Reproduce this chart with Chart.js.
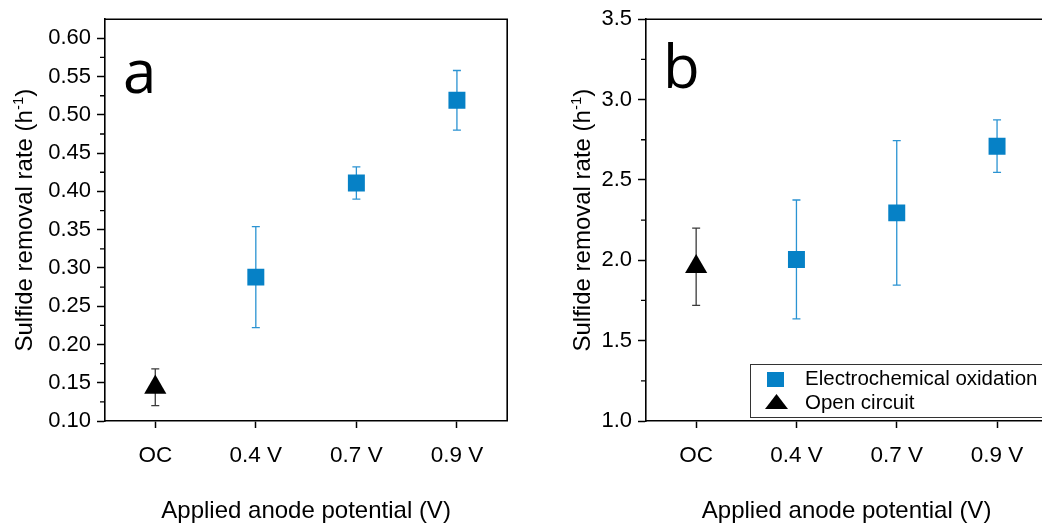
<!DOCTYPE html>
<html>
<head>
<meta charset="utf-8">
<script src="https://cdn.jsdelivr.net/npm/chart.js@4.4.0/dist/chart.umd.min.js"></script>
<style>
  html, body { margin: 0; padding: 0; background: #fff; overflow: hidden; width: 1042px; height: 523px; }
  canvas { position: absolute; top: 0; }
  #chartA { left: 0; }
  #chartB { left: 520px; }
</style>
</head>
<body>
<canvas id="chartA" width="520" height="523"></canvas>
<canvas id="chartB" width="540" height="523"></canvas>
<script>
const categories = ['OC', '0.4 V', '0.7 V', '0.9 V']

// panel a
const oxidationA = [null, 0.288, 0.411, 0.519]
const oxidationErrA = [null, 0.066, 0.021, 0.039]
const openA = [0.144, null, null, null]
const openErrA = [0.024, null, null, null]
const yTicksA = [0.10, 0.15, 0.20, 0.25, 0.30, 0.35, 0.40, 0.45, 0.50, 0.55, 0.60]

// panel b
const oxidationB = [null, 2.005, 2.295, 2.71]
const oxidationErrB = [null, 0.37, 0.45, 0.163]
const openB = [1.96, null, null, null]
const openErrB = [0.24, null, null, null]
const yTicksB = [1.0, 1.5, 2.0, 2.5, 3.0, 3.5]

const BLUE = '#0681c6'
const FONT = "'Liberation Sans', Arial, sans-serif"

// vertical error bars with caps, drawn under the markers
const errorBars = {
    id: 'errorBars',
    beforeDatasetsDraw(chart) {
        const ctx = chart.ctx
        const y = chart.scales.y
        chart.data.datasets.forEach((ds, i) => {
            const meta = chart.getDatasetMeta(i)
            meta.data.forEach((pt, j) => {
                const v = ds.data[j]
                const e = ds.errors[j]
                if (v == null || e == null) return
                const top = y.getPixelForValue(v + e)
                const bot = y.getPixelForValue(v - e)
                ctx.save()
                ctx.strokeStyle = ds.errorColor
                ctx.lineWidth = 1.3
                ctx.beginPath()
                ctx.moveTo(pt.x, top)
                ctx.lineTo(pt.x, bot)
                ctx.moveTo(pt.x - 4, top)
                ctx.lineTo(pt.x + 4, top)
                ctx.moveTo(pt.x - 4, bot)
                ctx.lineTo(pt.x + 4, bot)
                ctx.stroke()
                ctx.restore()
            })
        })
    }
}

// frame, minor ticks, axis titles, panel letter and legend box
const panelDecor = {
    id: 'panelDecor',
    afterDraw(chart, args, opts) {
        const ctx = chart.ctx
        const area = chart.chartArea
        const y = chart.scales.y
        ctx.save()

        ctx.strokeStyle = '#000'
        ctx.lineWidth = 1.6
        ctx.beginPath()
        ctx.moveTo(area.left, area.top)
        ctx.lineTo(area.right, area.top)
        ctx.lineTo(area.right, area.bottom)
        ctx.stroke()

        // minor ticks halfway between the labelled ones
        ctx.lineWidth = 1.3
        const t = opts.ticks
        ctx.beginPath()
        for (let i = 0; i < t.length - 1; i++) {
            const py = y.getPixelForValue((t[i] + t[i + 1]) / 2)
            ctx.moveTo(area.left, py)
            ctx.lineTo(area.left - 5, py)
        }
        ctx.stroke()

        ctx.fillStyle = '#000'
        ctx.font = '24px ' + FONT
        ctx.textAlign = 'center'
        ctx.textBaseline = 'alphabetic'
        ctx.fillText('Applied anode potential (V)', (area.left + area.right) / 2, 518)

        // y title with superscript
        const main = 'Sulfide removal rate (h'
        const sup = '-1'
        const end = ')'
        ctx.font = '24px ' + FONT
        const wMain = ctx.measureText(main).width
        const wEnd = ctx.measureText(end).width
        ctx.font = '15px ' + FONT
        const wSup = ctx.measureText(sup).width
        const total = wMain + wSup + wEnd
        ctx.translate(opts.titleX, (area.top + area.bottom) / 2)
        ctx.rotate(-Math.PI / 2)
        ctx.textAlign = 'left'
        let x0 = -total / 2
        ctx.font = '24px ' + FONT
        ctx.fillText(main, x0, 0)
        x0 += wMain
        ctx.font = '15px ' + FONT
        ctx.fillText(sup, x0, -9)
        x0 += wSup
        ctx.font = '24px ' + FONT
        ctx.fillText(end, x0, 0)
        ctx.setTransform(1, 0, 0, 1, 0, 0)

        ctx.font = "60px 'Open Sans', sans-serif"
        ctx.textAlign = 'left'
        ctx.fillText(opts.letter, area.left + opts.letterX, area.top + opts.letterY)

        if (opts.legend) {
            const lx = area.left + 104
            const ly = area.bottom - 57
            ctx.strokeStyle = '#333'
            ctx.lineWidth = 1
            ctx.strokeRect(lx + 0.5, ly + 0.5, 360, 53)
            const ds = chart.data.datasets
            ctx.fillStyle = ds[0].pointBackgroundColor
            ctx.fillRect(lx + 17, ly + 8, 17, 15)
            ctx.fillStyle = ds[1].pointBackgroundColor
            ctx.beginPath()
            ctx.moveTo(lx + 26.5, ly + 30)
            ctx.lineTo(lx + 38, ly + 45)
            ctx.lineTo(lx + 15, ly + 45)
            ctx.closePath()
            ctx.fill()
            ctx.fillStyle = '#000'
            ctx.font = '20.5px ' + FONT
            ctx.fillText(ds[0].label, lx + 55, ly + 20.5)
            ctx.fillText(ds[1].label, lx + 55, ly + 44.5)
        }
        ctx.restore()
    }
}

function makeChart(id, oxidation, oxidationErr, open, openErr, yTicks, yMin, yMax, decimals, deco, pad, yWidth) {
    const cfg = {
        type: 'line',
        data: {
            labels: categories,
            datasets: [{
                label: 'Electrochemical oxidation',
                data: oxidation,
                errors: oxidationErr,
                errorColor: '#2b93d2',
                showLine: false,
                pointStyle: 'rect',
                pointRadius: 12,
                pointHoverRadius: 12,
                pointBorderWidth: 0,
                pointBackgroundColor: BLUE,
                pointBorderColor: BLUE
            }, {
                label: 'Open circuit',
                data: open,
                errors: openErr,
                errorColor: '#3a3a3a',
                showLine: false,
                pointStyle: 'triangle',
                pointRadius: 12.8,
                pointHoverRadius: 12.8,
                pointBorderWidth: 0,
                pointBackgroundColor: '#000',
                pointBorderColor: '#000'
            }]
        },
        options: {
            responsive: false,
            animation: false,
            devicePixelRatio: 1,
            layout: { padding: pad },
            scales: {
                x: {
                    type: 'category',
                    offset: true,
                    grid: { drawOnChartArea: false, tickLength: 7, tickColor: '#000', tickWidth: 1.5 },
                    border: { color: '#000', width: 1.6 },
                    ticks: { color: '#000', padding: 14, font: { family: FONT, size: 22.5 } },
                    afterFit: (s) => { s.height = 102 }
                },
                y: {
                    min: yMin,
                    max: yMax,
                    grid: { drawOnChartArea: false, tickLength: 8, tickColor: '#000', tickWidth: 1.5 },
                    border: { color: '#000', width: 1.6 },
                    ticks: {
                        color: '#000',
                        padding: 6,
                        font: { family: FONT, size: 22 },
                        callback: (v) => Number(v).toFixed(decimals)
                    },
                    afterBuildTicks: (s) => { s.ticks = yTicks.map(v => ({ value: v })) },
                    afterFit: (s) => { s.width = yWidth }
                }
            },
            plugins: {
                legend: { display: false },
                tooltip: { enabled: false },
                panelDecor: Object.assign({ ticks: yTicks }, deco)
            }
        },
        plugins: [errorBars, panelDecor]
    }
    const ctx = document.getElementById(id).getContext('2d')
    // eslint-disable-next-line no-undef
    return new Chart(ctx, cfg)
}

makeChart('chartA', oxidationA, oxidationErrA, openA, openErrA, yTicksA, 0.10, 0.625, 2,
    { letter: 'a', letterX: 18, letterY: 74, titleX: 32, legend: false },
    { left: 0, top: 18, right: 11, bottom: 0 }, 105)

makeChart('chartB', oxidationB, oxidationErrB, openB, openErrB, yTicksB, 1.0, 3.5, 1,
    { letter: 'b', letterX: 17, letterY: 69, titleX: 70, legend: true },
    { left: 0, top: 19, right: 10, bottom: 0 }, 126)
</script>
</body>
</html>
